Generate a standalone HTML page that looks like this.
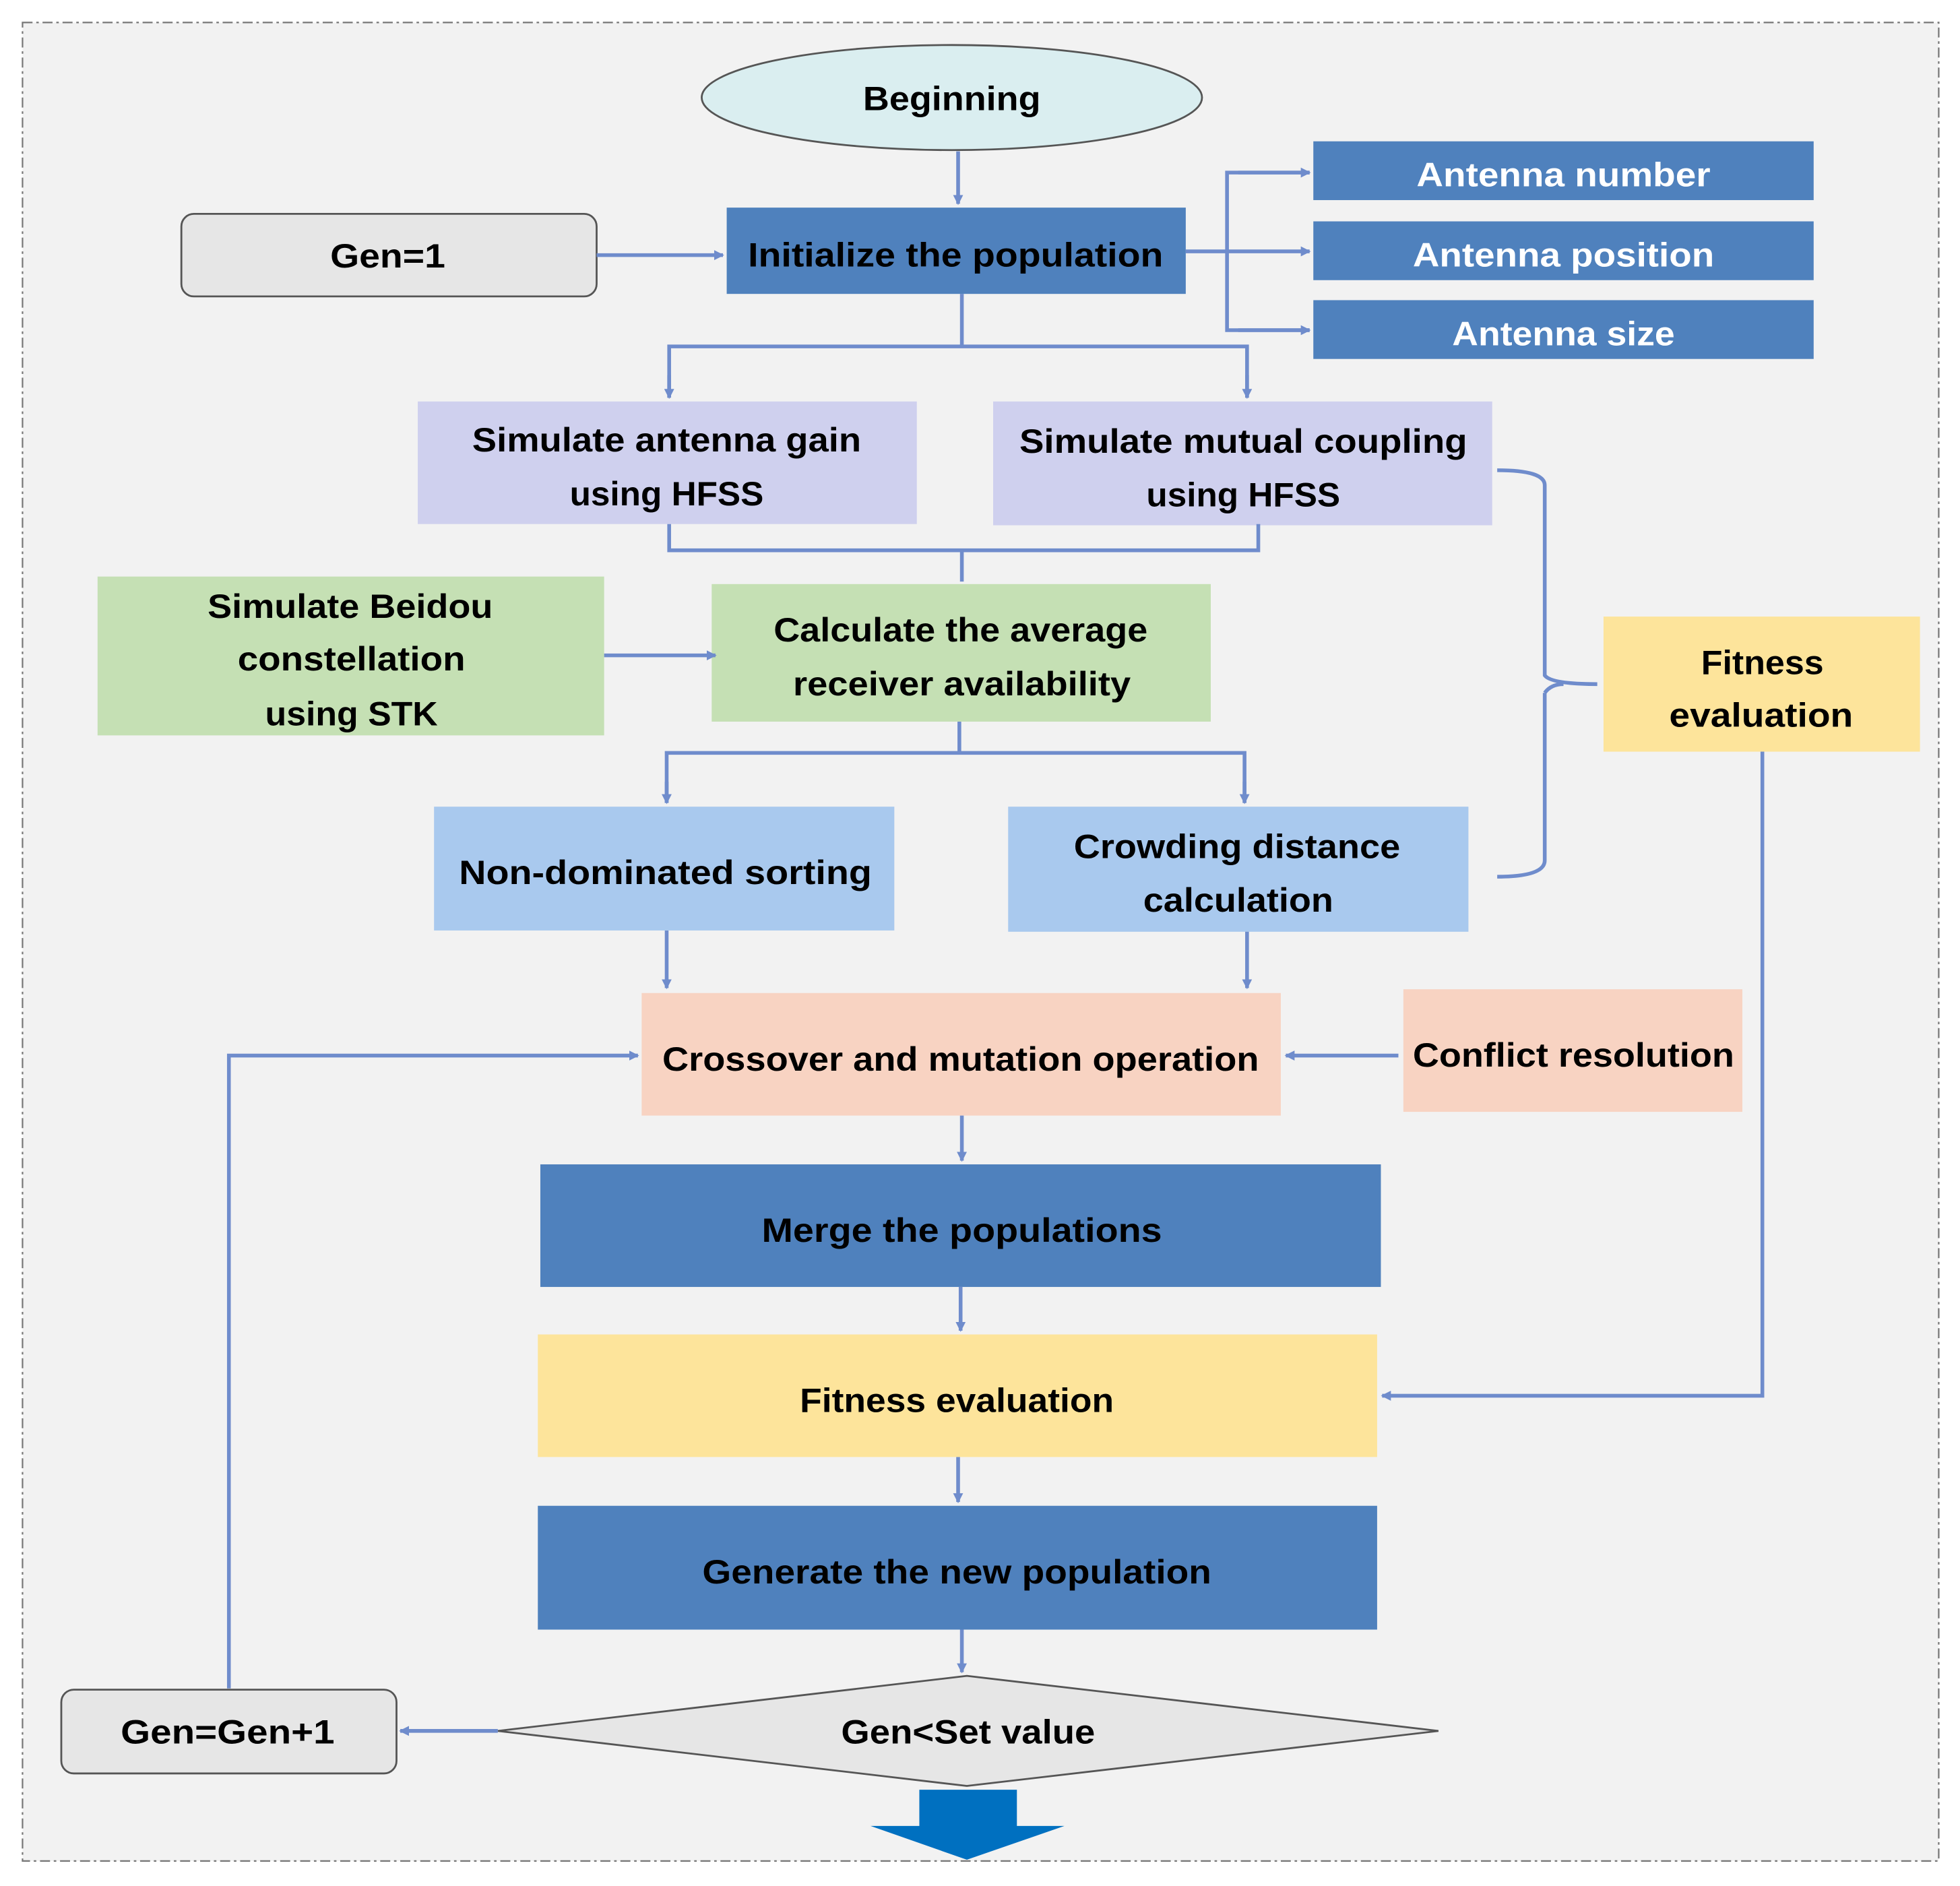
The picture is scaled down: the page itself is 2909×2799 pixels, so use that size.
<!DOCTYPE html>
<html><head><meta charset="utf-8"><style>
html,body{margin:0;padding:0;background:#fff;}
svg{display:block;}
text{font-family:"Liberation Sans",sans-serif;font-weight:bold;font-size:27px;fill:#000;text-anchor:middle;}
.w{fill:#fff;}
.ln{stroke:#6f8ccc;stroke-width:3;fill:none;}
</style></head><body>
<svg width="2909" height="2799" viewBox="0 0 1567 1508" preserveAspectRatio="none" xmlns="http://www.w3.org/2000/svg">
<defs><marker id="a" markerWidth="8" markerHeight="8" refX="7" refY="4" orient="auto" markerUnits="userSpaceOnUse"><path d="M0,0 L8,4 L0,8 Z" fill="#6f8ccc"/></marker></defs>
<rect x="0" y="0" width="1567" height="1508" fill="#fff"/>
<rect x="18" y="18" width="1532" height="1470" fill="#f2f2f2" stroke="#777" stroke-width="1.2" stroke-dasharray="8,3,2,3"/>

<!-- shapes -->
<ellipse cx="761" cy="78" rx="200" ry="42" fill="#daeef0" stroke="#555" stroke-width="1.5"/>
<rect x="145" y="171" width="332" height="66" rx="10" fill="#e6e6e6" stroke="#555" stroke-width="1.5"/>
<rect x="581" y="166" width="367" height="69" fill="#4f81bd"/>
<rect x="1050" y="113" width="400" height="47" fill="#4f81bd"/>
<rect x="1050" y="177" width="400" height="47" fill="#4f81bd"/>
<rect x="1050" y="240" width="400" height="47" fill="#4f81bd"/>
<rect x="334" y="321" width="399" height="98" fill="#cfd0ee"/>
<rect x="794" y="321" width="399" height="99" fill="#cfd0ee"/>
<rect x="78" y="461" width="405" height="127" fill="#c5e0b4"/>
<rect x="569" y="467" width="399" height="110" fill="#c5e0b4"/>
<rect x="1282" y="493" width="253" height="108" fill="#fde49b"/>
<rect x="347" y="645" width="368" height="99" fill="#a9c9ee"/>
<rect x="806" y="645" width="368" height="100" fill="#a9c9ee"/>
<rect x="513" y="794" width="511" height="98" fill="#f8d3c2"/>
<rect x="1122" y="791" width="271" height="98" fill="#f8d3c2"/>
<rect x="432" y="931" width="672" height="98" fill="#4f81bd"/>
<rect x="430" y="1067" width="671" height="98" fill="#fde49b"/>
<rect x="430" y="1204" width="671" height="99" fill="#4f81bd"/>
<polygon points="398,1384 773,1340 1150,1384 773,1428" fill="#e6e6e6" stroke="#555" stroke-width="1.5"/>
<rect x="49" y="1351" width="268" height="67" rx="10" fill="#e6e6e6" stroke="#555" stroke-width="1.5"/>
<polygon points="735,1431 813,1431 813,1460 851,1460 773,1487 696,1460 735,1460" fill="#0070c0"/>

<!-- connectors -->
<path class="ln" d="M766,121 V163" marker-end="url(#a)"/>
<path class="ln" d="M477,204 H578" marker-end="url(#a)"/>
<path class="ln" d="M948,201 H1047" marker-end="url(#a)"/>
<path class="ln" d="M1047,138 H981 V264 H1047" />
<path class="ln" d="M990,138 H1047" marker-end="url(#a)"/>
<path class="ln" d="M990,264 H1047" marker-end="url(#a)"/>
<path class="ln" d="M769,235 V277"/>
<path class="ln" d="M535,318 V277 H997 V318"/>
<path class="ln" d="M535,300 V318" marker-end="url(#a)"/>
<path class="ln" d="M997,300 V318" marker-end="url(#a)"/>
<path class="ln" d="M535,419 V440 H1006 V419"/>
<path class="ln" d="M769,440 V465"/>
<path class="ln" d="M483,524 H572" marker-end="url(#a)"/>
<path class="ln" d="M767,577 V602"/>
<path class="ln" d="M533,642 V602 H995 V642"/>
<path class="ln" d="M533,625 V642" marker-end="url(#a)"/>
<path class="ln" d="M995,625 V642" marker-end="url(#a)"/>
<path class="ln" d="M1197,376 Q1235,376 1235,388 V540 Q1240,547 1277,547 M1235,554 Q1240,547 1250,547 M1235,554 V688 Q1235,701 1197,701"/>
<path class="ln" d="M1409,601 V1116 H1105" marker-end="url(#a)"/>
<path class="ln" d="M533,744 V790" marker-end="url(#a)"/>
<path class="ln" d="M997,745 V790" marker-end="url(#a)"/>
<path class="ln" d="M183,1350 V844 H510" marker-end="url(#a)"/>
<path class="ln" d="M1118,844 H1028" marker-end="url(#a)"/>
<path class="ln" d="M769,892 V928" marker-end="url(#a)"/>
<path class="ln" d="M768,1029 V1064" marker-end="url(#a)"/>
<path class="ln" d="M766,1165 V1201" marker-end="url(#a)"/>
<path class="ln" d="M769,1303 V1337" marker-end="url(#a)"/>
<path class="ln" d="M398,1384 H320" marker-end="url(#a)"/>

<!-- text -->
<text x="761" y="88" textLength="142" lengthAdjust="spacingAndGlyphs">Beginning</text>
<text x="310" y="214" textLength="92" lengthAdjust="spacingAndGlyphs">Gen=1</text>
<text x="764" y="213" textLength="332" lengthAdjust="spacingAndGlyphs" class="k">Initialize the population</text>
<text class="w" x="1250" y="149" textLength="235" lengthAdjust="spacingAndGlyphs">Antenna number</text>
<text class="w" x="1250" y="213" textLength="241" lengthAdjust="spacingAndGlyphs">Antenna position</text>
<text class="w" x="1250" y="276" textLength="178" lengthAdjust="spacingAndGlyphs">Antenna size</text>
<text x="533" y="361" textLength="311" lengthAdjust="spacingAndGlyphs">Simulate antenna gain</text>
<text x="533" y="404" textLength="155" lengthAdjust="spacingAndGlyphs">using HFSS</text>
<text x="994" y="362" textLength="358" lengthAdjust="spacingAndGlyphs">Simulate mutual coupling</text>
<text x="994" y="405" textLength="155" lengthAdjust="spacingAndGlyphs">using HFSS</text>
<text x="280" y="494" textLength="228" lengthAdjust="spacingAndGlyphs">Simulate Beidou</text>
<text x="281" y="536" textLength="182" lengthAdjust="spacingAndGlyphs">constellation</text>
<text x="281" y="580" textLength="138" lengthAdjust="spacingAndGlyphs">using STK</text>
<text x="768" y="513" textLength="299" lengthAdjust="spacingAndGlyphs">Calculate the average</text>
<text x="769" y="556" textLength="270" lengthAdjust="spacingAndGlyphs">receiver availability</text>
<text x="1409" y="539" textLength="98" lengthAdjust="spacingAndGlyphs">Fitness</text>
<text x="1408" y="581" textLength="147" lengthAdjust="spacingAndGlyphs">evaluation</text>
<text x="532" y="707" textLength="330" lengthAdjust="spacingAndGlyphs">Non-dominated sorting</text>
<text x="989" y="686" textLength="261" lengthAdjust="spacingAndGlyphs">Crowding distance</text>
<text x="990" y="729" textLength="152" lengthAdjust="spacingAndGlyphs">calculation</text>
<text x="768" y="856" textLength="477" lengthAdjust="spacingAndGlyphs">Crossover and mutation operation</text>
<text x="1258" y="853" textLength="257" lengthAdjust="spacingAndGlyphs">Conflict resolution</text>
<text x="769" y="993" textLength="320" lengthAdjust="spacingAndGlyphs">Merge the populations</text>
<text x="765" y="1129" textLength="251" lengthAdjust="spacingAndGlyphs">Fitness evaluation</text>
<text x="765" y="1266" textLength="407" lengthAdjust="spacingAndGlyphs">Generate the new population</text>
<text x="182" y="1394" textLength="171" lengthAdjust="spacingAndGlyphs">Gen=Gen+1</text>
<text x="774" y="1394" textLength="203" lengthAdjust="spacingAndGlyphs">Gen&lt;Set value</text>
</svg>
</body></html>
